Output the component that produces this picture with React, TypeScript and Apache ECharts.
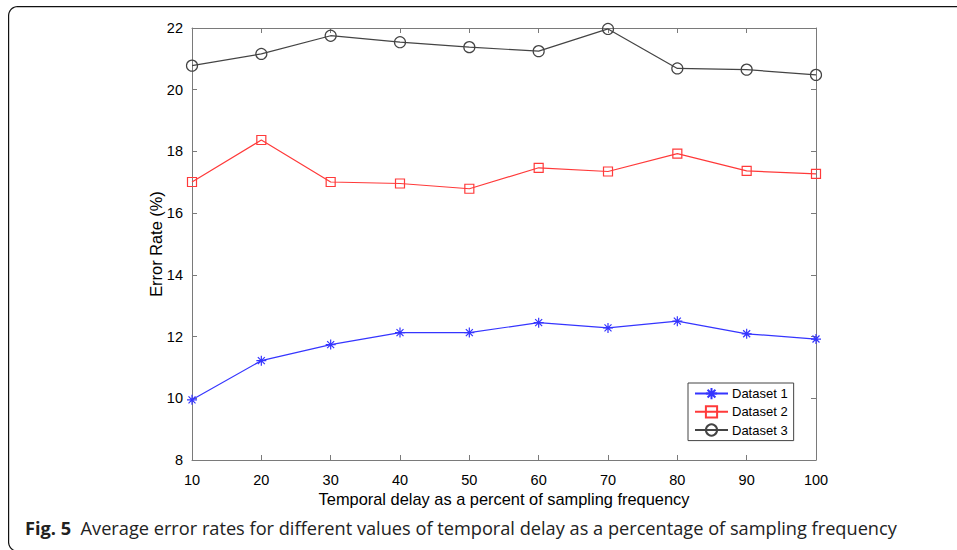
import React, { useEffect, useRef } from "react";
import * as echarts from "echarts";

const delays = [10, 20, 30, 40, 50, 60, 70, 80, 90, 100];
const dataset1 = [9.95, 11.22, 11.74, 12.13, 12.13, 12.45, 12.28, 12.5, 12.09, 11.92];
const dataset2 = [17.01, 18.37, 17.01, 16.96, 16.79, 17.47, 17.35, 17.93, 17.37, 17.27];
const dataset3 = [20.78, 21.16, 21.75, 21.54, 21.38, 21.25, 21.97, 20.69, 20.65, 20.48];
const seriesNames = ["Dataset 1", "Dataset 2", "Dataset 3"];

const STAR = "path://M5,0L5,10M0,5L10,5M1.5,1.5L8.5,8.5M1.5,8.5L8.5,1.5";
const AXIS = "#7a7a7a";
const FONT = "'Liberation Sans', Arial, sans-serif";

function framePoints() {
  const pts: number[][] = [[960, 6.6]];
  const r = 9;
  for (let i = 0; i <= 8; i++) {
    const a = Math.PI * 1.5 - (i / 8) * (Math.PI / 2);
    pts.push([17.6 + r * Math.cos(a), 15.6 + r * Math.sin(a)]);
  }
  for (let i = 0; i <= 8; i++) {
    const a = Math.PI - (i / 8) * (Math.PI / 2);
    pts.push([17.6 + r * Math.cos(a), 542.2 + r * Math.sin(a)]);
  }
  pts.push([960, 551.2]);
  return pts;
}

export default function App() {
  const ref = useRef<HTMLDivElement>(null);
  useEffect(() => {
    const chart = echarts.init(ref.current!, null, { renderer: "svg" });
    const pair = (arr: number[]) => delays.map((d, i) => [d, arr[i]]);
    const axisCommon = {
      axisLine: { show: true, lineStyle: { color: AXIS, width: 1 } },
      axisTick: { show: true, inside: true, length: 5, lineStyle: { color: AXIS } },
      splitLine: { show: false },
    };
    chart.setOption({
      animation: false,
      backgroundColor: "#fff",
      grid: { left: 192, top: 28, right: 141, bottom: 90, containLabel: false },
      xAxis: [
        {
          type: "value",
          min: 10,
          max: 100,
          interval: 10,
          ...axisCommon,
          axisLabel: { color: "#000", fontSize: 14.5, fontFamily: FONT, margin: 12 },
          name: "Temporal delay as a percent of sampling frequency",
          nameLocation: "middle",
          nameGap: 31,
          nameMoveOverlap: false,
          nameTextStyle: { color: "#000", fontSize: 16.4, fontFamily: FONT },
        },
        {
          type: "value",
          position: "top",
          min: 10,
          max: 100,
          interval: 10,
          ...axisCommon,
          axisLabel: { show: false },
        },
      ],
      yAxis: [
        {
          type: "value",
          min: 8,
          max: 22,
          interval: 2,
          ...axisCommon,
          axisLabel: { color: "#000", fontSize: 14.5, fontFamily: FONT, margin: 9 },
          name: "Error Rate (%)",
          nameLocation: "middle",
          nameGap: 28,
          nameMoveOverlap: false,
          nameTextStyle: { color: "#000", fontSize: 16.4, fontFamily: FONT },
        },
        {
          type: "value",
          position: "right",
          min: 8,
          max: 22,
          interval: 2,
          ...axisCommon,
          axisLabel: { show: false },
        },
      ],
      legend: {
        orient: "vertical",
        left: 688,
        top: 383,
        padding: [4, 6, 4, 6],
        itemGap: 5,
        itemWidth: 33,
        itemHeight: 14,
        borderColor: "#444",
        borderWidth: 1,
        backgroundColor: "#fff",
        textStyle: { color: "#000", fontSize: 13, fontFamily: FONT, padding: [0, 0, 0, -1] },
        data: seriesNames,
      },
      series: [
        {
          name: seriesNames[0],
          type: "line",
          data: pair(dataset1),
          symbol: STAR,
          symbolSize: 10,
          lineStyle: { color: "#3535ff", width: 1.2 },
          itemStyle: { color: "transparent", borderColor: "#3535ff", borderWidth: 1.2 },
          emphasis: { disabled: true },
        },
        {
          name: seriesNames[1],
          type: "line",
          data: pair(dataset2),
          symbol: "rect",
          symbolSize: 9,
          lineStyle: { color: "#ff3a3a", width: 1.2 },
          itemStyle: { color: "transparent", borderColor: "#ff3a3a", borderWidth: 1.2 },
          emphasis: { disabled: true },
        },
        {
          name: seriesNames[2],
          type: "line",
          data: pair(dataset3),
          symbol: "circle",
          symbolSize: 11,
          lineStyle: { color: "#444", width: 1.2 },
          itemStyle: { color: "transparent", borderColor: "#444", borderWidth: 1.2 },
          emphasis: { disabled: true },
        },
      ],
      graphic: [
        {
          type: "polyline",
          silent: true,
          shape: { points: framePoints() },
          style: { fill: "none", stroke: "#111", lineWidth: 1.2 },
        },
        {
          type: "text",
          silent: true,
          x: 25,
          y: 528,
          style: {
            text: "{b|Fig. 5}  Average error rates for different values of temporal delay as a percentage of sampling frequency",
            fill: "#222",
            verticalAlign: "middle",
            font: "18.2px 'Open Sans', sans-serif",
            rich: {
              b: { fontWeight: "bold", fontSize: 18.2, fontFamily: "'Open Sans', sans-serif", fill: "#222" },
            },
          },
        },
      ],
    });
    return () => chart.dispose();
  }, []);
  return <div ref={ref} style={{ position: "fixed", left: 0, top: 0, width: 957, height: 550 }} />;
}
